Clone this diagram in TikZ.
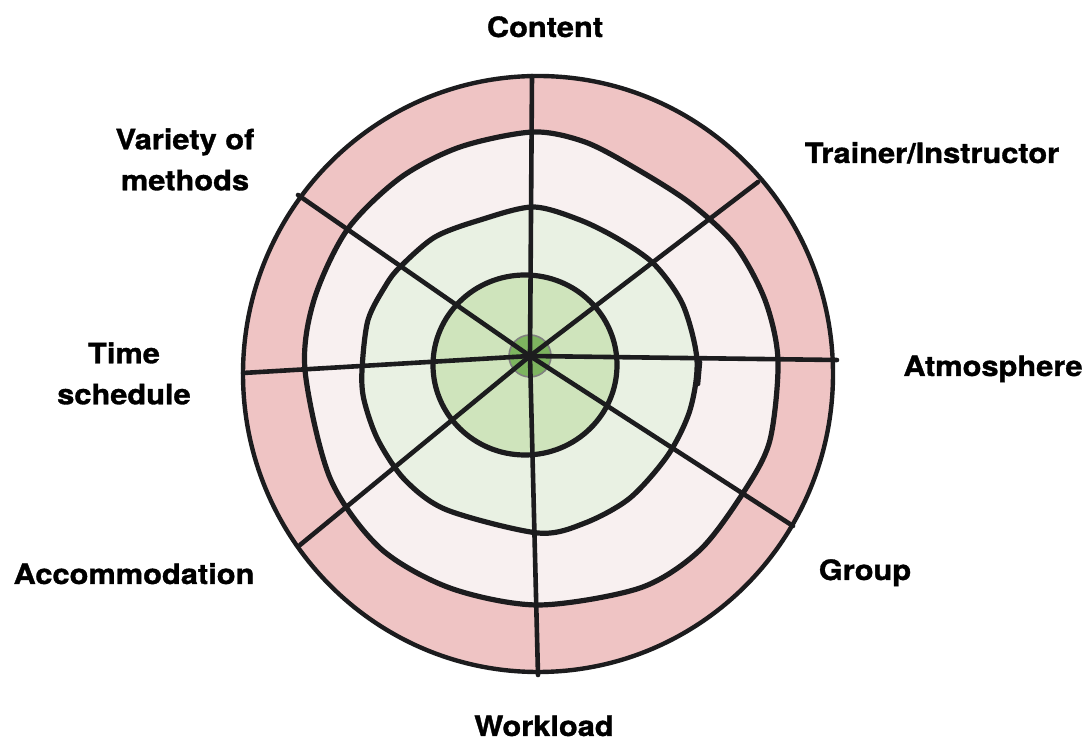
\documentclass[tikz,border=0pt]{standalone}
\usepackage{fontspec}
\setmainfont{TeX Gyre Heros}[BoldFeatures={FakeBold=1.2, FakeStretch=1.1}]

\definecolor{ink}{RGB}{28,28,30}
\definecolor{crayonred}{RGB}{239,196,196}
\definecolor{palered}{RGB}{248,240,240}
\definecolor{palegreen}{RGB}{233,241,227}
\definecolor{midgreen}{RGB}{207,228,188}
\definecolor{hubgreen}{RGB}{125,180,95}

\tikzset{
  ring/.style={draw=ink, line width=2.6pt},
  spoke/.style={draw=ink, line width=2.3pt, line cap=round},
  itemtext/.style={font=\bfseries\fontsize{14}{20.5}\selectfont, inner sep=0pt, align=center},
}

\begin{document}
\begin{tikzpicture}[x=0.5pt, y=-0.5pt]
    \useasboundingbox (0,0) rectangle (1089,742);

    % the four rings, outermost first
    \filldraw[ring, line width=2.2pt, fill=crayonred] (538,374) ellipse [x radius=295, y radius=298];
    \filldraw[ring, fill=palered] plot[smooth cycle] coordinates {
        (533,132) (585,142) (635,168) (690,203) (735,245) (765,300)
        (778,360) (770,440) (745,490) (700,550) (640,588) (538,605) (450,588)
        (380,548) (330,478) (305,370) (314,300) (347,230) (400,178) (460,147)};
    \filldraw[ring, fill=palegreen] plot[smooth cycle] coordinates {
        (533,207) (580,220) (620,240) (655,265) (683,305) (697,360) (690,410)
        (668,455) (630,498) (585,523) (538,533) (447,510) (405,480) (378,440)
        (364,400) (362,370) (368,320) (386,285) (400,267) (435,237) (480,220)};
    \filldraw[ring, fill=midgreen] (525,365) ellipse [x radius=92, y radius=90];
    \draw[spoke] (700,362) -- (698,384);

    % spokes from the hub to the rim
    \coordinate (n)  at (532,76);
    \coordinate (ne) at (758,182);
    \coordinate (e)  at (837,360);
    \coordinate (se) at (793,526);
    \coordinate (s)  at (538,675);
    \coordinate (sw) at (300,545);
    \coordinate (w)  at (243,373);
    \coordinate (nw) at (298,195);
    \node[circle, minimum size=21pt, inner sep=0pt, fill=hubgreen, draw=gray, line width=0.8pt] (hub) at (530,356) {};
    \foreach \p in {n,ne,e,se,s,sw,w,nw}
        {\draw[spoke] (hub.center) -- (\p);}

    \node[itemtext, anchor=base] (content)  at (545,37)  {Content};
    \node[itemtext, anchor=base] (trainer)  at (932,163) {Trainer/Instructor};
    \node[itemtext, anchor=base] (atmos)    at (993,376) {Atmosphere};
    \node[itemtext, anchor=base] (group)    at (865,580) {Group};
    \node[itemtext, anchor=base] (workload) at (544,736) {Workload};
    \node[itemtext, anchor=base] (accom)    at (134,584) {Accommodation};
    \node[itemtext, anchor=north] (time)    at (124,342) {Time\\schedule};
    \node[itemtext, anchor=north] (variety) at (185,128) {Variety of\\methods};
\end{tikzpicture}
\end{document}
